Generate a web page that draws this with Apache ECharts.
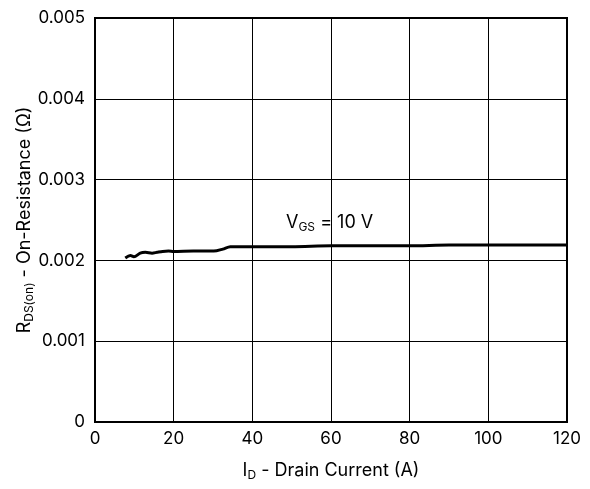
<!DOCTYPE html>
<html>
<head>
<meta charset="utf-8">
<script src="https://cdn.jsdelivr.net/npm/echarts@6/dist/echarts.min.js"></script>
<style>
  html, body { margin: 0; padding: 0; background: #fff; }
  #chart { width: 590px; height: 489px; }
</style>
</head>
<body>
<div id="chart"></div>
<script>
// curve: I_D (A) vs R_DS(on) (ohm)
const drainCurrent = [7.7, 9.0, 9.9, 11.5, 12.8, 14.5, 15.8, 17.2, 18.7, 20, 25, 30.2, 32.5, 34.4, 36, 42, 50, 60, 70, 80, 90, 100, 110, 120];
const onResistance = [0.00203, 0.00206, 0.002045, 0.00209, 0.0021, 0.00209, 0.0021, 0.00211, 0.002115, 0.00211, 0.002115, 0.002115, 0.00214, 0.00217, 0.00217, 0.00217, 0.00217, 0.00218, 0.00218, 0.00218, 0.00219, 0.00219, 0.00219, 0.00219];
const xTicks = { min: 0, max: 120, interval: 20 };
const yTicks = { min: 0, max: 0.005, interval: 0.001 };

const font = 'Inter, Liberation Sans, Arial, sans-serif';
const chart = echarts.init(document.getElementById('chart'));

const titleRich = {
  a: { fontSize: 18, fontFamily: font, color: '#000', lineHeight: 21 },
  s: { fontSize: 12, fontFamily: font, color: '#000', lineHeight: 21, padding: [9, 0, 0, 0] }
};

const option = {
  animation: false,
  grid: {
    left: 95, right: 23, top: 18, bottom: 67,
    outerBoundsMode: 'none',
    containLabel: false,
    show: true, borderColor: '#000', borderWidth: 2
  },
  xAxis: {
    type: 'value',
    min: xTicks.min, max: xTicks.max, interval: xTicks.interval,
    axisLine: { show: false },
    axisTick: { show: false },
    axisLabel: { color: '#000', fontSize: 17, fontFamily: font, margin: 8 },
    splitLine: { show: true, lineStyle: { color: '#000', width: 1 } },
    name: '{a|I}{s|D}{a| - Drain Current (A)}',
    nameLocation: 'middle',
    nameGap: 38,
    nameMoveOverlap: false,
    nameTextStyle: { rich: titleRich }
  },
  yAxis: {
    type: 'value',
    min: yTicks.min, max: yTicks.max, interval: yTicks.interval,
    axisLine: { show: false },
    axisTick: { show: false },
    axisLabel: { color: '#000', fontSize: 17, fontFamily: font, margin: 10 },
    splitLine: { show: true, lineStyle: { color: '#000', width: 1 } },
    name: '{a|R}{s|DS(on)}{a| - On-Resistance (Ω)}',
    nameLocation: 'middle',
    nameRotate: 90,
    nameGap: 60,
    nameMoveOverlap: false,
    nameTextStyle: { rich: titleRich }
  },
  graphic: [{
    type: 'text',
    left: 286, top: 213,
    style: {
      text: '{a|V}{s|GS}{a| = 10 V}',
      rich: {
        a: { fontSize: 18, fontFamily: font, fill: '#000', lineHeight: 21 },
        s: { fontSize: 12, fontFamily: font, fill: '#000', lineHeight: 21, padding: [8, 0, 0, 0] }
      }
    }
  }],
  series: [{
    type: 'line',
    data: drainCurrent.map((x, i) => [x, onResistance[i]]),
    showSymbol: false,
    smooth: 0.3,
    lineStyle: { color: '#000', width: 3 }
  }]
};
chart.setOption(option);
</script>
</body>
</html>
